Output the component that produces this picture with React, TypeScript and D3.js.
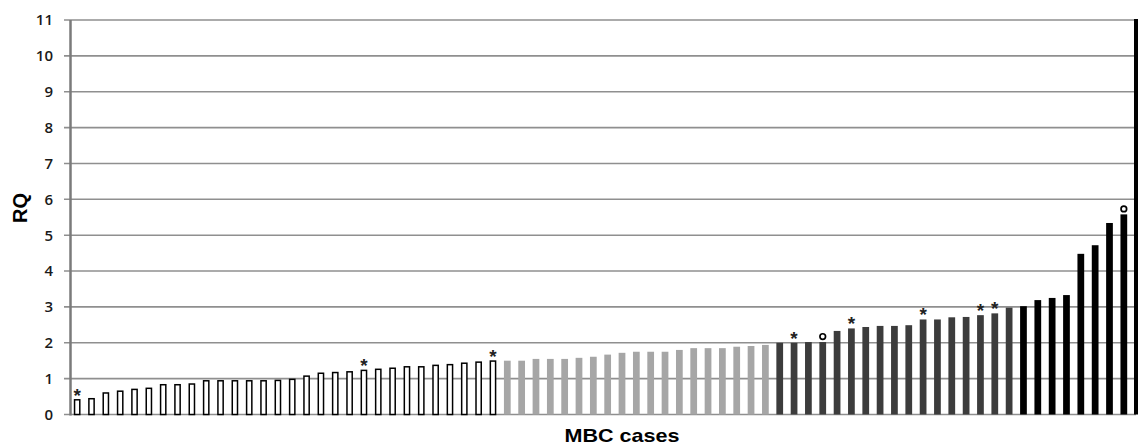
import React from "react";
import * as d3 from "d3";

const whiteValues = [0.41, 0.44, 0.6, 0.65, 0.7, 0.73, 0.83, 0.83, 0.85, 0.94, 0.94, 0.94, 0.94, 0.94, 0.95, 0.98, 1.07, 1.15, 1.17, 1.19, 1.23, 1.26, 1.29, 1.33, 1.33, 1.37, 1.39, 1.43, 1.46, 1.49];
const grayValues = [1.5, 1.5, 1.55, 1.55, 1.55, 1.58, 1.61, 1.67, 1.72, 1.75, 1.75, 1.75, 1.8, 1.85, 1.85, 1.85, 1.89, 1.91, 1.94];
const darkValues = [2.0, 2.0, 2.02, 2.02, 2.33, 2.4, 2.44, 2.47, 2.47, 2.49, 2.65, 2.65, 2.71, 2.72, 2.77, 2.82, 2.98];
const blackValues = [3.02, 3.19, 3.25, 3.33, 4.48, 4.72, 5.34, 5.58];

const asteriskCases = [0, 20, 29, 50, 54, 59, 63, 64];
const circleCases = [52, 73];
const yTicks = [0, 1, 2, 3, 4, 5, 6, 7, 8, 9, 10, 11];

type Bar = { i: number; v: number; group: string };

const groupStyle: Record<string, { fill: string; stroke: string }> = {
  white: { fill: "#ffffff", stroke: "#000000" },
  gray: { fill: "#a6a6a6", stroke: "none" },
  dark: { fill: "#3c3c3c", stroke: "none" },
  black: { fill: "#000000", stroke: "none" },
};

export default function App() {
  const W = 1138;
  const H = 447;
  const left = 70;
  const right = 1131;
  const top = 20;
  const bottom = 414.5;

  const bars: Bar[] = [];
  const pushGroup = (vals: number[], group: string) => {
    vals.forEach((v) => bars.push({ i: bars.length, v, group }));
  };
  pushGroup(whiteValues, "white");
  pushGroup(grayValues, "gray");
  pushGroup(darkValues, "dark");
  pushGroup(blackValues, "black");

  const x = d3
    .scaleBand<number>()
    .domain(bars.map((b) => b.i))
    .range([left, right])
    .paddingInner(0.53)
    .paddingOuter(0.265);
  const y = d3.scaleLinear().domain([0, 11]).range([bottom, top]);
  const bw = x.bandwidth();

  return (
    <svg
      width={W}
      height={H}
      style={{ position: "absolute", left: 0, top: 0, background: "#fff" }}
    >
      {yTicks.map((t) => (
        <g key={t}>
          <line
            x1={64}
            x2={1136}
            y1={y(t)}
            y2={y(t)}
            stroke="#8f8f8f"
            strokeWidth={1.6}
          />
          <text
            x={53}
            y={y(t)}
            dy="0.36em"
            textAnchor="end"
            fontFamily="'Open Sans', sans-serif"
            fontWeight={600}
            fontSize={15}
            fill="#1a1a1a"
          >
            {t}
          </text>
        </g>
      ))}
      <line x1={70.5} x2={70.5} y1={top} y2={bottom + 1} stroke="#7a7a7a" strokeWidth={2.5} />
      <line x1={1136} x2={1136} y1={top - 1} y2={bottom} stroke="#000" strokeWidth={4} />

      {bars.map((b) => {
        const st = groupStyle[b.group];
        const isWhite = b.group === "white";
        return (
          <rect
            key={b.i}
            x={(x(b.i) as number) + (isWhite ? 0.75 : 0)}
            y={y(b.v)}
            width={isWhite ? bw - 1.5 : bw}
            height={bottom - y(b.v)}
            fill={st.fill}
            stroke={st.stroke}
            strokeWidth={isWhite ? 1.5 : 0}
          />
        );
      })}

      {asteriskCases.map((i) => (
        <text
          key={"a" + i}
          x={(x(i) as number) + bw / 2}
          y={y(bars[i].v) + 2}
          textAnchor="middle"
          fontFamily="'Liberation Sans', Arial, sans-serif"
          fontWeight="bold"
          fontSize={19}
          fill="#222"
        >
          *
        </text>
      ))}
      {circleCases.map((i) => (
        <circle
          key={"c" + i}
          cx={(x(i) as number) + bw / 2}
          cy={y(bars[i].v) - 5.5}
          r={2.8}
          fill="none"
          stroke="#000"
          strokeWidth={1.7}
        />
      ))}

      <text
        transform={`translate(27,208) rotate(-90)`}
        textAnchor="middle"
        fontFamily="'Liberation Sans', Arial, sans-serif"
        fontWeight="bold"
        fontSize={20}
        fill="#000"
      >
        RQ
      </text>
      <text
        x={622}
        y={442}
        textAnchor="middle"
        fontFamily="'Liberation Sans', Arial, sans-serif"
        fontWeight="bold"
        fontSize={19}
        textLength={115}
        lengthAdjust="spacingAndGlyphs"
        fill="#000"
      >
        MBC cases
      </text>
    </svg>
  );
}
